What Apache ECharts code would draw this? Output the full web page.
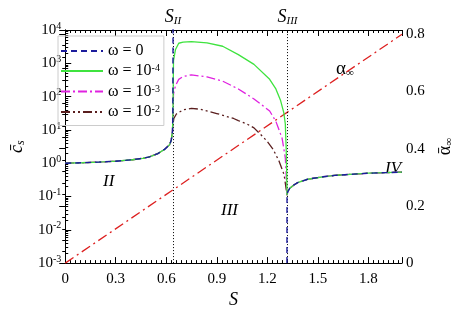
<!DOCTYPE html>
<html><head><meta charset="utf-8">
<script src="https://cdn.jsdelivr.net/npm/echarts@6/dist/echarts.min.js"></script>
<style>html,body{margin:0;padding:0;background:#fff}#c{width:463px;height:314px}</style>
</head><body><div id="c"></div>
<script>
// ---- data ----
var xTicks = [0, 0.3, 0.6, 0.9, 1.2, 1.5, 1.8];
var boundaries = [0.64, 1.317];            // S_II, S_III
var boundaryNames = ['II', 'III'];
// common curve in region II (all omega)
var regionII = [[0,1.0],[0.1,1.03],[0.2,1.08],[0.3,1.15],[0.4,1.27],[0.46,1.4],[0.5,1.55],[0.55,1.95],[0.59,2.6],[0.62,3.6],[0.63,5],[0.637,9]];
// common curve in region IV
var regionIV = [[1.317,0.11],[1.32,0.14],[1.335,0.18],[1.36,0.225],[1.38,0.26],[1.44,0.33],[1.53,0.39],[1.6,0.43],[1.715,0.47],[1.8,0.5],[1.9,0.52],[2.0,0.54]];
// omega = 0 singular branches
var blueUp = [[0.639,30],[0.6405,20000]];
var blueDown = [[1.3168,0.001],[1.3172,0.09],[1.322,0.14]];
// omega = 1e-4
var greenIII = [[0.64,40],[0.643,1200],[0.655,2600],[0.674,4000],[0.70,4300],[0.749,4500],[0.842,4100],[0.935,3250],[1.028,1820],[1.121,930],[1.214,330],[1.251,170],[1.279,76],[1.298,33],[1.307,15],[1.312,3],[1.315,0.6]];
// omega = 1e-3
var magentaIII = [[0.64,30],[0.643,120],[0.655,215],[0.674,330],[0.70,400],[0.749,450],[0.842,390],[0.935,290],[1.028,170],[1.121,85],[1.214,37],[1.251,18],[1.288,5.6],[1.307,1.45],[1.313,0.37]];
// omega = 1e-2
var brownIII = [[0.64,14],[0.645,22],[0.66,30],[0.7,40],[0.749,44],[0.8,42],[0.9,31],[1.0,22],[1.028,19],[1.08,15],[1.121,11.5],[1.17,6.5],[1.2,4.5],[1.235,2.6],[1.27,1.15],[1.3,0.45]];
// alpha_infinity (right axis)
var alphaLine = [[0,0],[2,0.8]];
var leftTicksExp = [-3,-2,-1,0,1,2,3,4];
var rightTicks = [0,0.2,0.4,0.6,0.8];

var F = 'Liberation Serif';
var cs = echarts.init(document.getElementById('c'));
var supRich = {
  b: {fontFamily:F, fontSize:15, color:'#000'},
  sup: {fontFamily:F, fontSize:10, color:'#000', verticalAlign:'top', padding:[0,0,8,0]}
};
function axisBase(){
  return {
    axisLine:{show:true, lineStyle:{color:'#000', width:1}},
    axisTick:{show:true, inside:true, length:6, lineStyle:{color:'#000'}},
    minorTick:{show:true, length:3, lineStyle:{color:'#000'}},
    splitLine:{show:false},
    axisLabel:{fontFamily:F, fontSize:15, color:'#000'}
  };
}
var xb = Object.assign(axisBase(), {type:'value', min:0, max:2, interval:0.3, position:'bottom',
  name:'S', nameLocation:'middle', nameGap:27,
  nameTextStyle:{fontFamily:F, fontSize:18, fontStyle:'italic', color:'#000'}});
xb.axisLabel = {fontFamily:F, fontSize:15, color:'#000', margin:8, showMaxLabel:false,
  formatter:function(v){return xTicks.indexOf(Math.round(v*10)/10)>=0 ? String(Math.round(v*10)/10) : '';}};
xb.minorTick.splitNumber = 10;
var xt = Object.assign(axisBase(), {type:'value', min:0, max:2, interval:0.3, position:'top'});
xt.axisLabel = {show:false}; xt.minorTick.splitNumber = 10;

var yl = Object.assign(axisBase(), {type:'log', logBase:10, min:0.001, max:10000, position:'left',
  name:'{c|c\u0304}{s|s}', nameLocation:'middle', nameGap:37, nameRotate:90,
  nameTextStyle:{rich:{c:{fontFamily:F, fontSize:18, fontStyle:'italic', color:'#000'}, s:{fontFamily:F, fontSize:12, fontStyle:'italic', color:'#000', verticalAlign:'bottom', padding:[8,0,0,0]}}}});
yl.axisLabel = {fontFamily:F, fontSize:15, color:'#000', margin:4, rich:supRich, hideOverlap:false,
  formatter:function(v){var e=Math.round(Math.log10(v)); return leftTicksExp.indexOf(e)>=0 ? '{b|10}{sup|'+e+'}' : '';}};
yl.minorTick.splitNumber = 9;
var yr = Object.assign(axisBase(), {type:'value', min:0, max:0.815, interval:0.2, position:'right',
  name:'{a|\u03b1\u0304}{s|\u221e}', nameLocation:'middle', nameGap:34, nameRotate:90,
  nameTextStyle:{rich:{a:{fontFamily:F, fontSize:18, color:'#000'}, s:{fontFamily:F, fontSize:11, color:'#000', verticalAlign:'bottom', padding:[8,0,0,0]}}}});
yr.axisLabel = {fontFamily:F, fontSize:15, color:'#000', margin:4, showMaxLabel:false,
  formatter:function(v){var r=Math.round(v*10)/10; return rightTicks.indexOf(r)>=0 && Math.abs(v-r)<1e-6 ? String(r) : '';}};
yr.minorTick.splitNumber = 5;

function ln(name, data, color, type, width, z, yi){
  return {name:name, type:'line', data:data, yAxisIndex:yi||0, xAxisIndex:0, symbol:'none', showSymbol:false,
    smooth:false, clip:true, z:z, lineStyle:{color:color, type:type, width:width||1.3}, itemStyle:{color:color}, animation:false};
}
var cBlue='#1c1c9c', cGreen='#3fe33f', cMag='#e022e0', cBrown='#5a1e1e', cRed='#dd2020';
var legendNames = ['w0','w4','w3','w2'];
var legendFmt = {w0:'\u03c9 = 0', w4:'\u03c9 = 10{sup|-4}', w3:'\u03c9 = 10{sup|-3}', w2:'\u03c9 = 10{sup|-2}'};

var series = [
  ln('alpha', alphaLine, cRed, [10,4,2,4], 1.3, 2, 1),
  ln('w2', regionII.concat(brownIII, regionIV), cBrown, [9,3,2,3,2,3], 1.3, 3),
  ln('w3', regionII.concat(magentaIII, regionIV), cMag, [9,3,2,3], 1.3, 4),
  ln('w4', regionII.concat(greenIII, regionIV), cGreen, 'solid', 1.3, 5),
  ln('w0', regionII.concat(blueUp), cBlue, [6,4], 1.4, 6),
  ln('w0', blueDown.concat(regionIV.slice(2)), cBlue, [6,4], 1.4, 6)
];
series[0].markLine = {silent:true, symbol:'none', animation:false,
  lineStyle:{color:'#000', type:[1,2], width:1},
  label:{show:true, position:'end', distance:3, formatter:function(p){return '{s|S}{i|'+boundaryNames[p.dataIndex]+'}';},
    rich:{s:{fontFamily:F, fontSize:18, fontStyle:'italic', color:'#000'}, i:{fontFamily:F, fontSize:11, fontStyle:'italic', color:'#000', verticalAlign:'bottom', padding:[8,0,0,0]}}},
  data: boundaries.map(function(b){return {xAxis:b};})};

cs.setOption({
  animation:false,
  grid:{left:56, right:49, top:30, bottom:47},
  xAxis:[xb, xt],
  yAxis:[yl, yr],
  legend:{data:legendNames.map(function(n){return {name:n};}), orient:'vertical', left:58, top:36,
    itemWidth:42, itemHeight:10, itemGap:4, padding:[7,4,5,2], borderColor:'#ccc', borderWidth:1,
    itemStyle:{opacity:0, borderWidth:0},
    formatter:function(n){return legendFmt[n];},
    textStyle:{fontFamily:F, fontSize:16, color:'#000', lineHeight:15, rich:{
      sup:{fontFamily:F, fontSize:10, color:'#000', verticalAlign:'top', lineHeight:10, padding:[0,0,6,0]}}}},
  series:series,
  graphic:[
    {type:'text', left:103, top:173, style:{text:'II', font:'italic 17px "Liberation Serif"', fill:'#000'}},
    {type:'text', left:221, top:202, style:{text:'III', font:'italic 17px "Liberation Serif"', fill:'#000'}},
    {type:'text', left:385, top:160, style:{text:'IV', font:'italic 17px "Liberation Serif"', fill:'#000'}},
    {type:'text', left:336, top:60, style:{text:'{a|\u03b1}{s|\u221e}', rich:{a:{fontFamily:F, fontSize:19, fill:'#000', color:'#000'}, s:{fontFamily:F, fontSize:11, color:'#000', verticalAlign:'bottom', padding:[8,0,0,0]}}}}
  ]
});
</script></body></html>
